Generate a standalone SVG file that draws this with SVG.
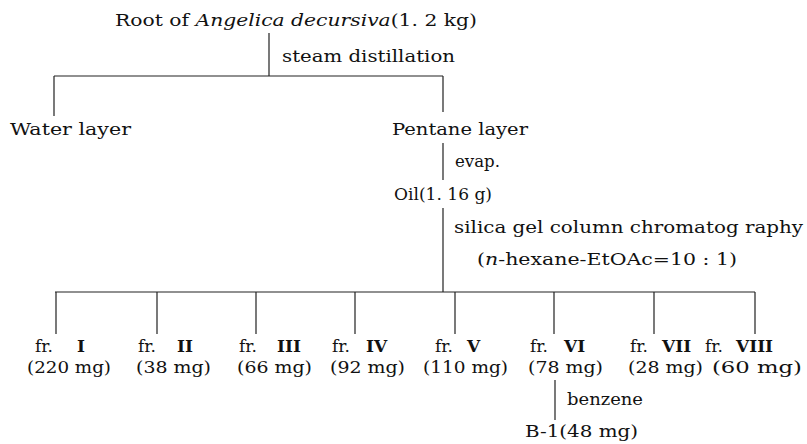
<svg xmlns="http://www.w3.org/2000/svg" width="807" height="444" viewBox="0 0 807 444">
<style>
text{font-family:"DejaVu Serif","Liberation Serif",serif;font-size:17px;fill:#111}
.b{font-weight:bold}
.i{font-style:italic}
.c{stroke:#222;stroke-width:1.2;fill:none}
</style>
<rect width="807" height="444" fill="#fff"/>
<g id="connectors">
<path class="c" d="M269 33V76M54 76H443M54 76V116M443 76V112M443 143V180M443 208V292M55 292H755M56 292V334M157 292V334M256 292V334M355 292V334M455 292V334M554 292V334M654 292V334M755 292V334M555 380V420"/>
</g>
<g id="root"><text x="115" y="26" textLength="362" lengthAdjust="spacingAndGlyphs">Root of <tspan class="i">Angelica decursiva</tspan>(1. 2 kg)</text></g>
<g id="steam"><text x="282" y="62" textLength="173" lengthAdjust="spacingAndGlyphs">steam distillation</text></g>
<g id="water"><text x="10" y="135" textLength="121" lengthAdjust="spacingAndGlyphs">Water layer</text></g>
<g id="pentane"><text x="392" y="135" textLength="136" lengthAdjust="spacingAndGlyphs">Pentane layer</text></g>
<g id="evap"><text x="455" y="167" textLength="45" lengthAdjust="spacingAndGlyphs">evap.</text></g>
<g id="oil"><text x="394" y="200" textLength="98" lengthAdjust="spacingAndGlyphs">Oil(1. 16 g)</text></g>
<g id="silica"><text x="454" y="233" textLength="349" lengthAdjust="spacingAndGlyphs">silica gel column chromatog raphy</text>
<text x="477" y="265" textLength="260" lengthAdjust="spacingAndGlyphs">(<tspan class="i">n</tspan>-hexane-EtOAc=10 : 1)</text></g>
<g id="fr1"><text x="35" y="352">fr.<tspan class="b" x="77">I</tspan></text><text x="27" y="373" textLength="84" lengthAdjust="spacingAndGlyphs">(220 mg)</text></g>
<g id="fr2"><text x="138" y="352">fr.<tspan class="b" x="177">II</tspan></text><text x="136" y="373" textLength="75" lengthAdjust="spacingAndGlyphs">(38 mg)</text></g>
<g id="fr3"><text x="239" y="352">fr.<tspan class="b" x="277">III</tspan></text><text x="237" y="373" textLength="75" lengthAdjust="spacingAndGlyphs">(66 mg)</text></g>
<g id="fr4"><text x="332" y="352">fr.<tspan class="b" x="366">IV</tspan></text><text x="330" y="373" textLength="75" lengthAdjust="spacingAndGlyphs">(92 mg)</text></g>
<g id="fr5"><text x="435" y="352">fr.<tspan class="b" x="467">V</tspan></text><text x="423" y="373" textLength="85" lengthAdjust="spacingAndGlyphs">(110 mg)</text></g>
<g id="fr6"><text x="530" y="352">fr.<tspan class="b" x="564">VI</tspan></text><text x="528" y="373" textLength="75" lengthAdjust="spacingAndGlyphs">(78 mg)</text></g>
<g id="fr7"><text x="630" y="352">fr.<tspan class="b" x="662">VII</tspan></text><text x="628" y="373" textLength="75" lengthAdjust="spacingAndGlyphs">(28 mg)</text></g>
<g id="fr8"><text x="705" y="352">fr.<tspan class="b" x="736">VIII</tspan></text><text x="712" y="373" textLength="90" lengthAdjust="spacingAndGlyphs">(60 mg)</text></g>
<g id="benzene"><text x="567" y="405" textLength="76" lengthAdjust="spacingAndGlyphs">benzene</text></g>
<g id="b1"><text x="525" y="437" textLength="113" lengthAdjust="spacingAndGlyphs">B-1(48 mg)</text></g>
</svg>
